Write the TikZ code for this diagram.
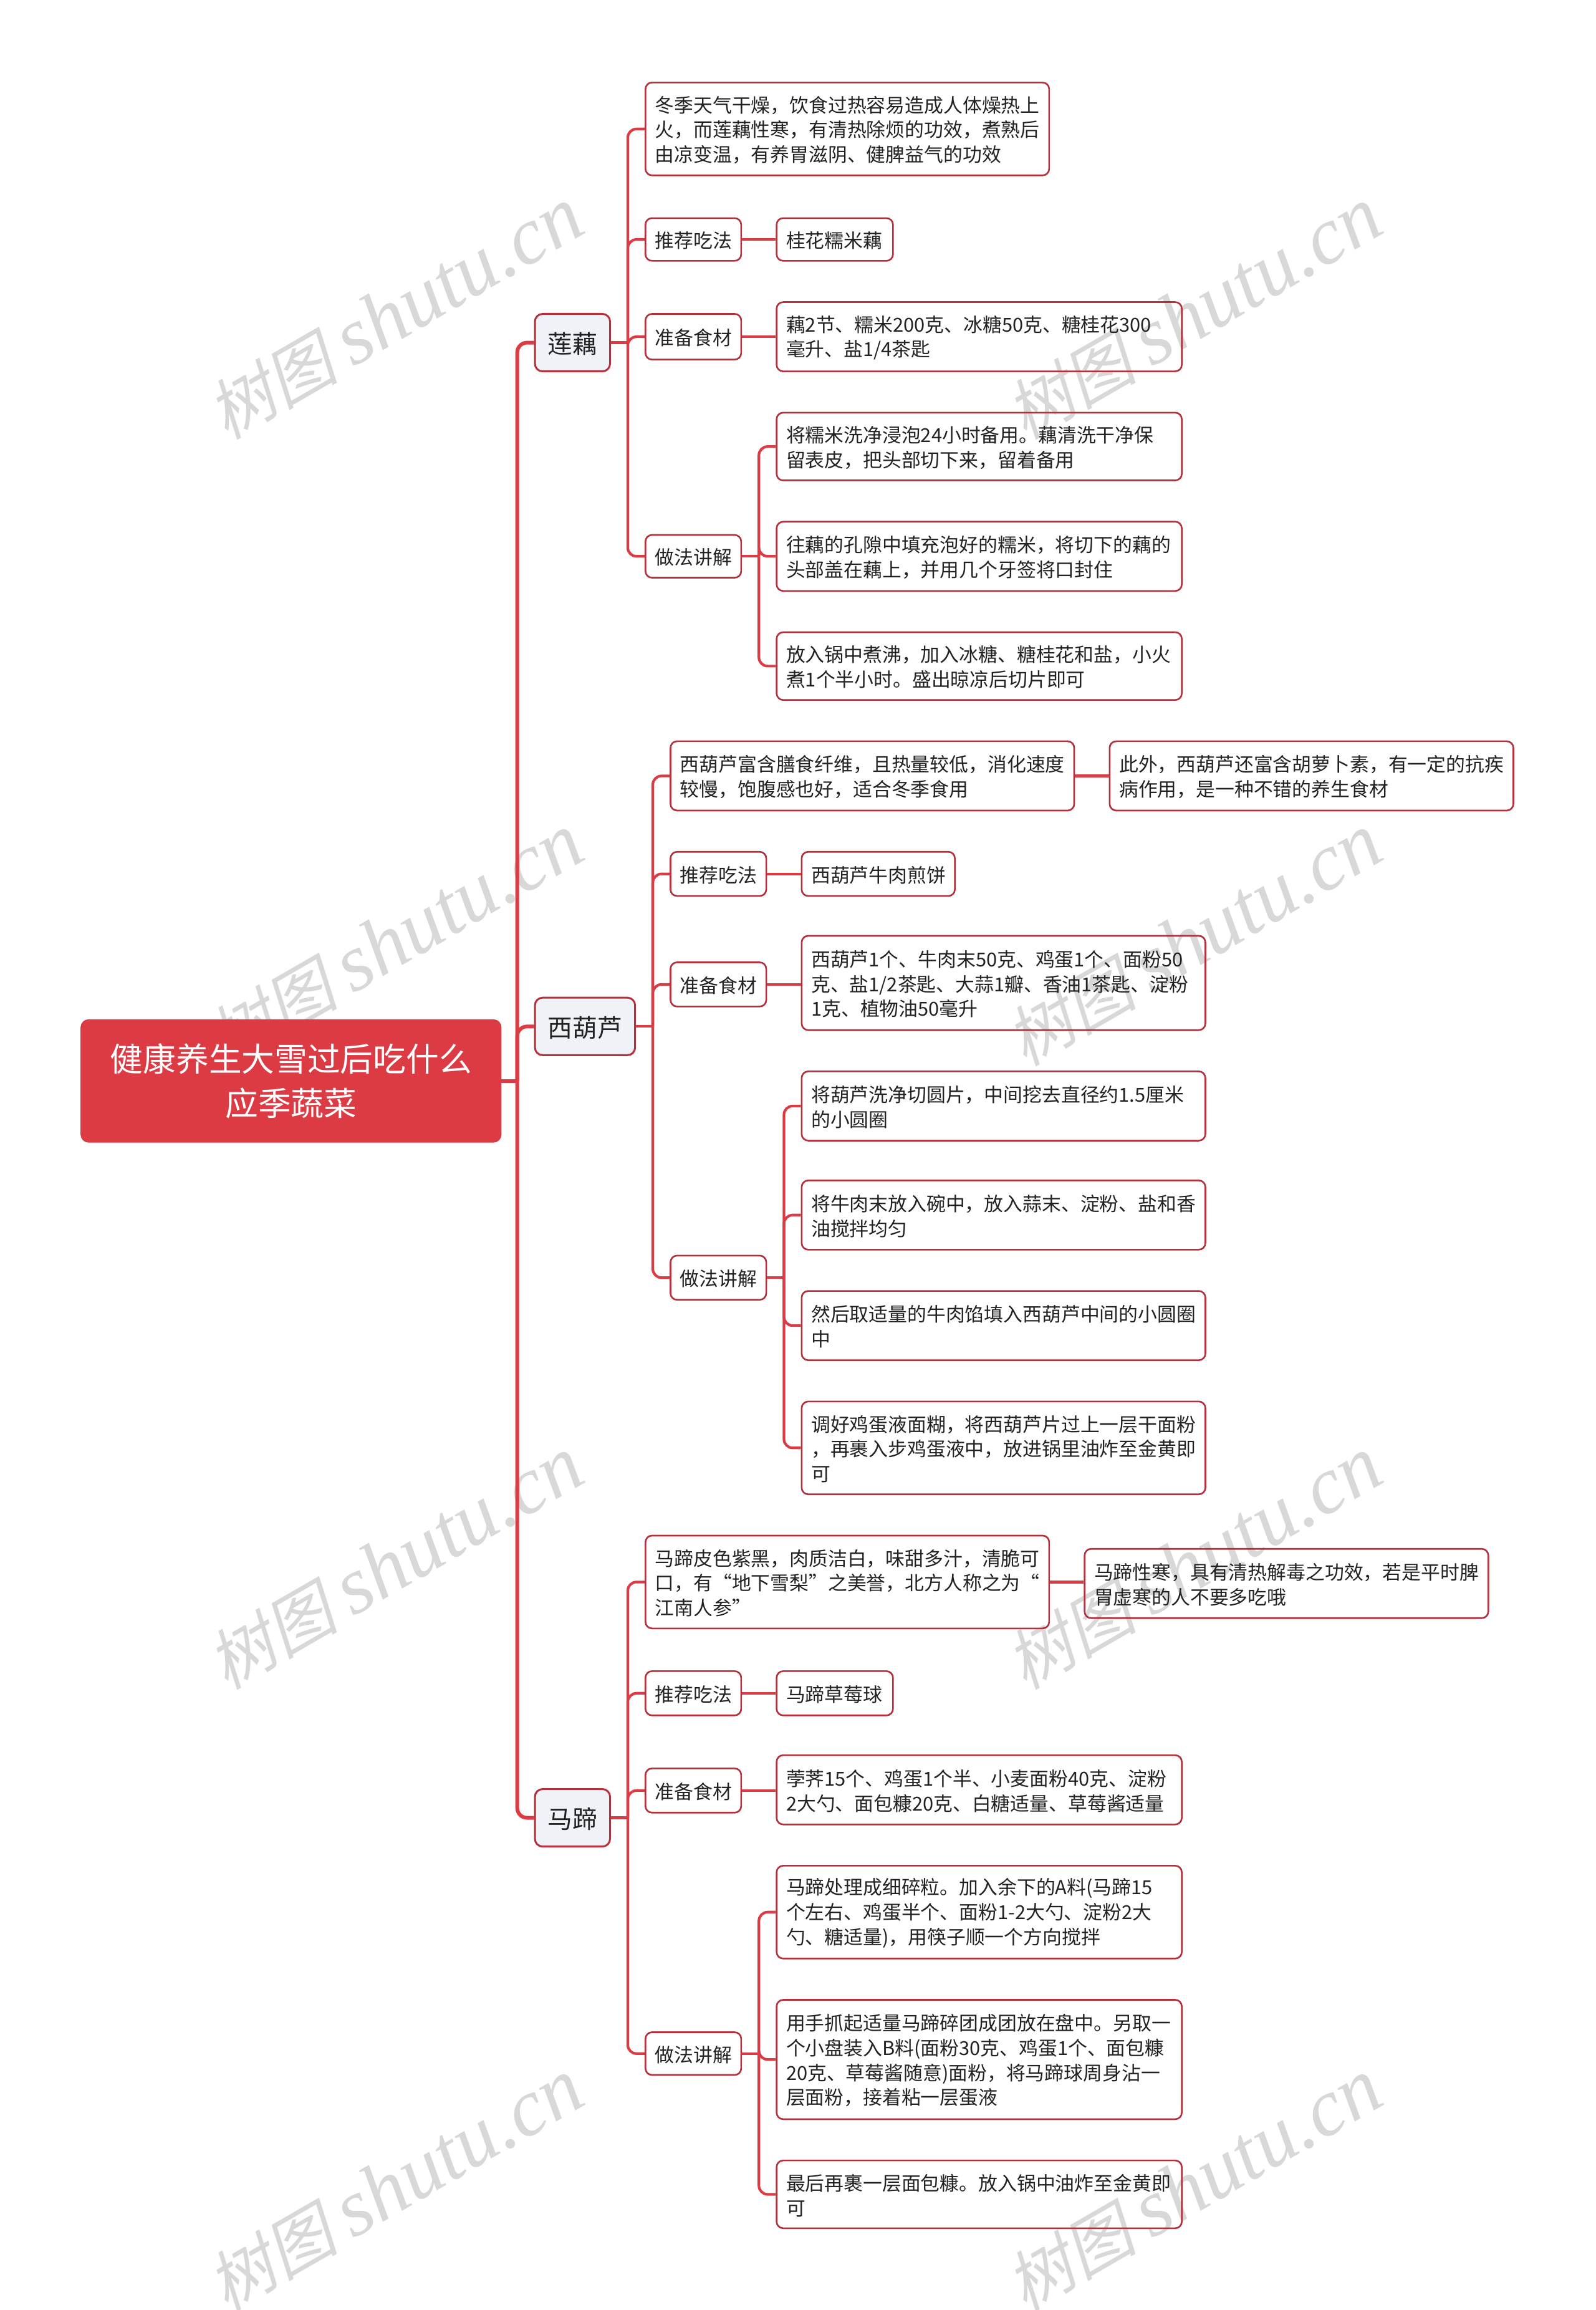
\documentclass[tikz,border=0pt]{standalone}
\usepackage{fontspec}
\setmainfont{Noto Sans CJK SC}
\newfontfamily\wmcjk{Noto Sans CJK SC}[FakeSlant=0.22]
\newfontfamily\wmlat{Liberation Serif}
\newcommand\CM{^^^^ff0c}
\definecolor{linered}{HTML}{DC3B44}
\definecolor{edgered}{HTML}{B5303A}
\definecolor{lvlfill}{HTML}{EFF2F6}
\definecolor{wmgray}{HTML}{D8D8D8}
\definecolor{inkc}{HTML}{222222}
\tikzset{
  x=0.047276cm,y=-0.047276cm,
  leafbox/.style={draw=edgered,line width=1.5pt,rounded corners=6pt,inner sep=0pt,font=\fontsize{17.55pt}{22.6pt}\selectfont,text=inkc},
  lvlbox/.style={draw=edgered,fill=lvlfill,line width=1.7pt,rounded corners=7pt,inner sep=0pt,font=\fontsize{22.6pt}{28pt}\selectfont,text=inkc,align=center,text height=19.8pt,text depth=0pt},
  rootbox/.style={draw=linered,fill=linered,line width=1pt,rounded corners=7pt,inner sep=0pt,font=\fontsize{30pt}{40.3pt}\selectfont,text=white,align=center},
  wire/.style={draw=linered,line width=2.4pt,rounded corners=8pt},
  wirefat/.style={draw=linered,line width=3.4pt,rounded corners=9pt},
  wm/.style={text=wmgray,rotate=30,inner sep=0pt},
}
% name x1 y1 x2 y2 style text
\newcommand\bx[7]{%
  \pgfmathsetmacro\mybw{(#4-#2)*1.3448}%
  \pgfmathsetmacro\mybh{(#5-#3)*1.3448}%
  \node[#6,minimum width=\mybw pt,minimum height=\mybh pt] (#1) at ({(#2+#4)/2},{(#3+#5)/2}) {#7};}
\newcommand\lf[6]{%
  \pgfmathsetmacro\mybw{(#4-#2)*1.3448}%
  \pgfmathsetmacro\mybh{(#5-#3)*1.3448}%
  \pgfmathsetmacro\mybt{(#4-#2-13)*1.3448}%
  \node[leafbox,minimum width=\mybw pt,minimum height=\mybh pt] (#1) at ({(#2+#4)/2},{(#3+#5)/2}) {\raisebox{-5.3pt}[0pt][0pt]{\parbox[c]{\mybt pt}{\raggedright #6}}};}
% parent, spine coord, children
\newcommand\stub[2]{\draw[wire,rounded corners=0pt] (#1.east) -- (#1.east -| #2);}
\newcommand\cn[3]{\draw[wire] (#1.east -| #2) -- (#3.west -| #2) -- (#3.west);}
\newcommand\cnf[3]{\draw[wirefat] (#1.east -| #2) -- (#3.west -| #2) -- (#3.west);}
\newcommand\sib[2]{\draw[wire] (#1.east) -- (#1.east -| #2.west);}
\begin{document}
\begin{tikzpicture}
\useasboundingbox[fill=white] (0,0) rectangle (1083,1567.5);
\foreach \px/\py/\nm in {268/213/wa,810/213/wb,268/638/wc,810/638/wd,268/1061/we,810/1061/wf,268/1483/wg,810/1483/wh}{
  \node[wm] (\nm) at (\px,\py) {\fontsize{60pt}{70pt}\wmcjk 树图 \fontsize{74pt}{70pt}\wmlat\itshape shutu.cn};
}
% root
\bx{root}{55}{692}{340}{775}{rootbox}{健康养生大雪过后吃什么\\应季蔬菜}
\bx{lo}{363}{213}{414}{252}{lvlbox}{莲藕}
\bx{xi}{363}{677}{431}{716}{lvlbox}{西葫芦}
\bx{ma}{363}{1214}{414}{1253}{lvlbox}{马蹄}
% lotus
\lf{la}{438}{56}{712}{119}{冬季天气干燥\CM 饮食过热容易造成人体燥热上\\火\CM 而莲藕性寒\CM 有清热除烦的功效\CM 煮熟后\\由凉变温\CM 有养胃滋阴、健脾益气的功效}
\lf{lb}{438}{148}{503}{177}{推荐吃法}
\lf{lbb}{527}{148}{606}{177}{桂花糯米藕}
\lf{lc}{438}{213}{503}{244}{准备食材}
\lf{lcb}{527}{205}{802}{252}{藕2节、糯米200克、冰糖50克、糖桂花300\\毫升、盐1/4茶匙}
\lf{ld}{438}{363}{503}{392}{做法讲解}
\lf{lda}{527}{280}{802}{326}{将糯米洗净浸泡24小时备用。藕清洗干净保\\留表皮\CM 把头部切下来\CM 留着备用}
\lf{ldb}{527}{354}{802}{401}{往藕的孔隙中填充泡好的糯米\CM 将切下的藕的\\头部盖在藕上\CM 并用几个牙签将口封住}
\lf{ldc}{527}{429}{802}{475}{放入锅中煮沸\CM 加入冰糖、糖桂花和盐\CM 小火\\煮1个半小时。盛出晾凉后切片即可}
% zucchini
\lf{xa}{455}{503}{729}{550}{西葫芦富含膳食纤维\CM 且热量较低\CM 消化速度\\较慢\CM 饱腹感也好\CM 适合冬季食用}
\lf{xaa}{753}{503}{1027}{550}{此外\CM 西葫芦还富含胡萝卜素\CM 有一定的抗疾\\病作用\CM 是一种不错的养生食材}
\lf{xb}{455}{578}{520}{608}{推荐吃法}
\lf{xbb}{544}{578}{648}{608}{西葫芦牛肉煎饼}
\lf{xc}{455}{653}{520}{683}{准备食材}
\lf{xcb}{544}{635}{818}{699}{西葫芦1个、牛肉末50克、鸡蛋1个、面粉50\\克、盐1/2茶匙、大蒜1瓣、香油1茶匙、淀粉\\1克、植物油50毫升}
\lf{xd}{455}{852}{520}{882}{做法讲解}
\lf{xda}{544}{727}{818}{774}{将葫芦洗净切圆片\CM 中间挖去直径约1.5厘米\\的小圆圈}
\lf{xdb}{544}{801}{818}{848}{将牛肉末放入碗中\CM 放入蒜末、淀粉、盐和香\\油搅拌均匀}
\lf{xdc}{544}{876}{818}{923}{然后取适量的牛肉馅填入西葫芦中间的小圆圈\\中}
\lf{xdd}{544}{951}{818}{1014}{调好鸡蛋液面糊\CM 将西葫芦片过上一层干面粉\\\CM 再裹入步鸡蛋液中\CM 放进锅里油炸至金黄即\\可}
% water chestnut
\lf{ma1}{438}{1042}{712}{1105}{马蹄皮色紫黑\CM 肉质洁白\CM 味甜多汁\CM 清脆可\\口\CM 有“地下雪梨”之美誉\CM 北方人称之为“\\江南人参”}
\lf{ma1b}{736}{1051}{1010}{1098}{马蹄性寒\CM 具有清热解毒之功效\CM 若是平时脾\\胃虚寒的人不要多吃哦}
\lf{mb}{438}{1134}{503}{1164}{推荐吃法}
\lf{mbb}{527}{1134}{606}{1164}{马蹄草莓球}
\lf{mc}{438}{1200}{503}{1230}{准备食材}
\lf{mcb}{527}{1191}{802}{1238}{荸荠15个、鸡蛋1个半、小麦面粉40克、淀粉\\2大勺、面包糠20克、白糖适量、草莓酱适量}
\lf{md}{438}{1379}{503}{1408}{做法讲解}
\lf{mda}{527}{1266}{802}{1329}{马蹄处理成细碎粒。加入余下的A料(马蹄15\\个左右、鸡蛋半个、面粉1-2大勺、淀粉2大\\勺、糖适量)\CM 用筷子顺一个方向搅拌}
\lf{mdb}{527}{1357}{802}{1438}{用手抓起适量马蹄碎团成团放在盘中。另取一\\个小盘装入B料(面粉30克、鸡蛋1个、面包糠\\20克、草莓酱随意)面粉\CM 将马蹄球周身沾一\\层面粉\CM 接着粘一层蛋液}
\lf{mdc}{527}{1466}{802}{1512}{最后再裹一层面包糠。放入锅中油炸至金黄即\\可}
% spines
\coordinate (s0) at (351,0);
\coordinate (s1) at (426,0);
\coordinate (s2) at (443,0);
\coordinate (s3) at (426,0);
\coordinate (s1d) at (515,0);
\coordinate (s2d) at (532,0);
\coordinate (s3d) at (515,0);
\draw[wirefat,rounded corners=0pt] (root.east) -- (root.east -| s0);
\foreach \c in {lo,xi,ma} {\cnf{root}{s0}{\c}}
\stub{lo}{s1}\foreach \c in {la,lb,lc,ld} {\cn{lo}{s1}{\c}}
\stub{xi}{s2}\foreach \c in {xa,xb,xc,xd} {\cn{xi}{s2}{\c}}
\stub{ma}{s3}\foreach \c in {ma1,mb,mc,md} {\cn{ma}{s3}{\c}}
\stub{ld}{s1d}\foreach \c in {lda,ldb,ldc} {\cn{ld}{s1d}{\c}}
\stub{xd}{s2d}\foreach \c in {xda,xdb,xdc,xdd} {\cn{xd}{s2d}{\c}}
\stub{md}{s3d}\foreach \c in {mda,mdb,mdc} {\cn{md}{s3d}{\c}}
\sib{lb}{lbb}
\sib{lc}{lcb}
\sib{xa}{xaa}
\sib{xb}{xbb}
\sib{xc}{xcb}
\sib{ma1}{ma1b}
\sib{mb}{mbb}
\sib{mc}{mcb}
\end{tikzpicture}
\end{document}
